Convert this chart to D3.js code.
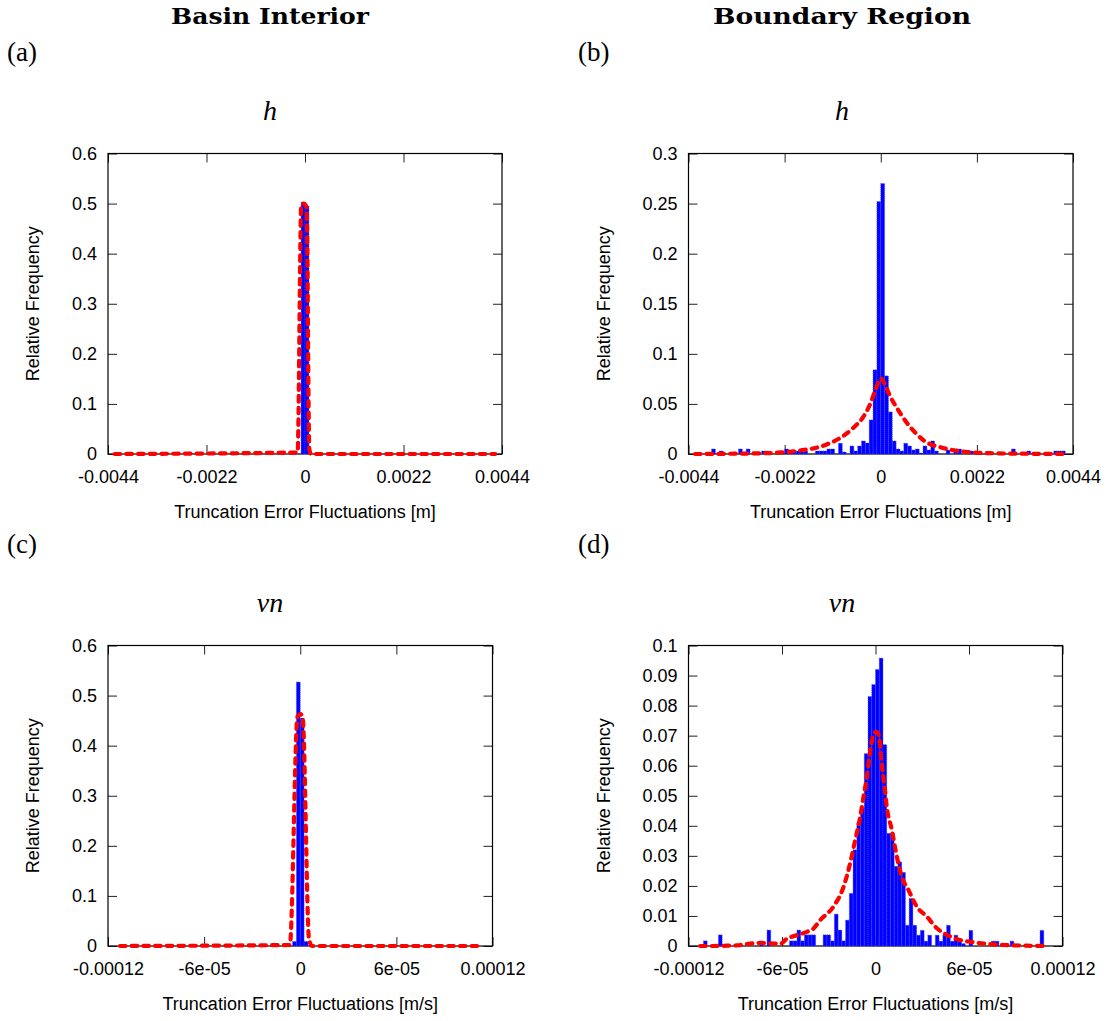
<!DOCTYPE html>
<html>
<head>
<meta charset="utf-8">
<script src="https://cdn.jsdelivr.net/npm/d3@7"></script>
<style>
  body { margin: 0; background: #ffffff; }
  svg { display: block; }
</style>
</head>
<body>
<svg id="fig" width="1113" height="1021"></svg>
<script>
// ---------------- text ----------------
const columnTitles = ["Basin Interior", "Boundary Region"];
const panelTags = ["(a)", "(b)", "(c)", "(d)"];
const variableNames = ["h", "h", "vn", "vn"];
const yAxisTitle = "Relative Frequency";
const xAxisTitles = [
  "Truncation Error Fluctuations [m]",
  "Truncation Error Fluctuations [m]",
  "Truncation Error Fluctuations [m/s]",
  "Truncation Error Fluctuations [m/s]"
];

// ---------------- tick values and labels ----------------
const hTickValues = [-0.0044, -0.0022, 0, 0.0022, 0.0044];
const hTickLabels = ["-0.0044", "-0.0022", "0", "0.0022", "0.0044"];
const vnTickValues = [-0.00012, -0.00006, 0, 0.00006, 0.00012];
const vnTickLabels = ["-0.00012", "-6e-05", "0", "6e-05", "0.00012"];

const freqTicksInterior = [0, 0.1, 0.2, 0.3, 0.4, 0.5, 0.6];
const freqLabelsInterior = ["0", "0.1", "0.2", "0.3", "0.4", "0.5", "0.6"];
const freqTicksHBoundary = [0, 0.05, 0.1, 0.15, 0.2, 0.25, 0.3];
const freqLabelsHBoundary = ["0", "0.05", "0.1", "0.15", "0.2", "0.25", "0.3"];
const freqTicksVnBoundary = [0, 0.01, 0.02, 0.03, 0.04, 0.05, 0.06, 0.07, 0.08, 0.09, 0.1];
const freqLabelsVnBoundary = ["0", "0.01", "0.02", "0.03", "0.04", "0.05", "0.06", "0.07", "0.08", "0.09", "0.1"];

// ---------------- histogram bins ----------------
// bin k covers [k*width, (k+1)*width]; arrays start at the given first bin index
const hBinWidth = 0.000088;
const vnBinWidth = 0.0000024;

const hInteriorFirstBin = -1;
const hInteriorFreq = [0.502, 0.495];

const hBoundaryFirstBin = -44;
const hBoundaryFreq = [
  0.005, 0, 0.003, 0, 0, 0, 0, 0.005, 0, 0.005,          // -44 .. -35
  0, 0, 0, 0.003, 0.003, 0, 0, 0, 0, 0.005,              // -34 .. -25
  0.003, 0.003, 0.003, 0.003, 0.003, 0, 0, 0.003, 0.003, 0.003, // -24 .. -15
  0.005, 0.005, 0, 0.0107, 0.002, 0, 0.008, 0.003, 0.008, 0.013, // -14 .. -5
  0.011, 0.034, 0.084, 0.252, 0.27, 0.078, 0.042, 0.013, 0.005, 0.003, // -4 .. 5
  0.0107, 0.008, 0.004, 0.005, 0.001, 0.008, 0.004, 0.013, 0.003, 0, // 6 .. 15
  0, 0.004, 0, 0.005, 0.005, 0, 0, 0.003, 0, 0,          // 16 .. 25
  0, 0, 0, 0, 0, 0, 0, 0, 0.005, 0,                      // 26 .. 35
  0, 0, 0.003, 0, 0, 0, 0, 0, 0, 0.003,                  // 36 .. 45
  0.003, 0.003                                           // 46 .. 47
];

const vnInteriorFirstBin = -2;
const vnInteriorFreq = [0.009, 0.527, 0.455, 0.009];

const vnBoundaryFirstBin = -46;
const vnBoundaryFreq = [
  0.0017, 0, 0, 0, 0.0037, 0, 0, 0, 0, 0,                // -46 .. -37
  0, 0, 0, 0, 0, 0.0017, 0, 0.0053, 0, 0,                // -36 .. -27
  0, 0, 0, 0.0017, 0.0017, 0.0053, 0.0017, 0.0037, 0.0037, 0.0037, // -26 .. -17
  0, 0, 0.0037, 0.0037, 0.0017, 0.0106, 0.0053, 0.0017, 0.0086, 0.0175, // -16 .. -7
  0.032, 0.041, 0.046, 0.064, 0.083, 0.087, 0.092, 0.0958, 0.067, 0.0375, // -6 .. 3
  0.0375, 0.0265, 0.028, 0.0245, 0.0069, 0.0158, 0.0069, 0.0036, 0.0052, 0.0016, // 4 .. 13
  0.0036, 0, 0.0036, 0.0016, 0.0036, 0.0069, 0.0016, 0.0036, 0.0016, 0.0008, // 14 .. 23
  0, 0.0052, 0, 0, 0, 0, 0, 0.0016, 0.0016, 0,           // 24 .. 33
  0, 0, 0.0016, 0, 0, 0, 0, 0, 0, 0,                      // 34 .. 43
  0.0052                                                  // 44
];

// ---------------- fitted density curves ----------------
const hInteriorFitX = [-0.00425, -0.000165, -0.000083, -0.00003, 0.000036, 0.000096, 0.000134, 0.00425];
const hInteriorFitY = [0, 0.003, 0.497, 0.5, 0.493, 0.01, 0, 0];

const hBoundaryFitX = [-0.00425, -0.0035, -0.003, -0.0025, -0.00215, -0.0018, -0.0015, -0.00124, -0.00093,
  -0.00063, -0.0004, -0.00024, -0.00012, 0, 0.0001, 0.00021, 0.00037, 0.0006, 0.00082, 0.001,
  0.00136, 0.00166, 0.00197, 0.0025, 0.003, 0.0035, 0.00425];
const hBoundaryFitY = [0, 0.0002, 0.0005, 0.001, 0.002, 0.0038, 0.006, 0.0095, 0.016,
  0.026, 0.037, 0.05, 0.064, 0.0755, 0.069, 0.058, 0.046, 0.031, 0.02, 0.013,
  0.0068, 0.0038, 0.002, 0.0008, 0.0004, 0.0002, 0];

const vnInteriorFitX = [-0.0001125, -0.0000065, -0.0000017, 0.0000002, 0.0000015, 0.0000055, 0.0000075, 0.0001128];
const vnInteriorFitY = [0, 0.002, 0.458, 0.463, 0.456, 0.012, 0, 0];

const vnBoundaryFitX = [-0.0001125, -0.000104, -0.0000954, -0.000089, -0.0000804, -0.000074, -0.0000676,
  -0.0000612, -0.0000569, -0.0000505, -0.0000441, -0.0000398, -0.0000355, -0.000027, -0.0000205,
  -0.0000163, -0.000013, -0.0000098, -0.0000077, -0.0000056, -0.0000039, -0.0000013, 0.0000004,
  0.0000021, 0.0000039, 0.0000058, 0.0000073, 0.0000105, 0.0000137, 0.0000169, 0.0000212, 0.0000265,
  0.0000329, 0.0000394, 0.0000458, 0.0000543, 0.0000607, 0.0000714, 0.0000843, 0.0000971, 0.0001089];
const vnBoundaryFitY = [0, 0, 0.0001, 0.0002, 0.0008, 0.001, 0.0009,
  0.0007, 0.0024, 0.0036, 0.0047, 0.0058, 0.0086, 0.0131, 0.0197,
  0.0275, 0.0353, 0.043, 0.0497, 0.056, 0.063, 0.0704, 0.0713,
  0.0702, 0.061, 0.053, 0.046, 0.0386, 0.0297, 0.023, 0.0186, 0.0131,
  0.0098, 0.0059, 0.0037, 0.002, 0.0014, 0.0007, 0.0003, 0.0001, 0];

// ---------------- layout of the four panels ----------------
const LEFT_COL = 270, RIGHT_COL = 842;
const panels = [
  { box: { left: 108, right: 502, top: 153.5, bottom: 454 }, xMax: 0.0044, yMax: 0.6,
    xTicks: hTickValues, xTickLabels: hTickLabels, yTicks: freqTicksInterior, yTickLabels: freqLabelsInterior,
    binWidth: hBinWidth, firstBin: hInteriorFirstBin, freq: hInteriorFreq, fitX: hInteriorFitX, fitY: hInteriorFitY,
    tag: [7, 61], name: [LEFT_COL, 120], yTitleX: 33 },
  { box: { left: 688.5, right: 1073, top: 153.5, bottom: 454 }, xMax: 0.0044, yMax: 0.3,
    xTicks: hTickValues, xTickLabels: hTickLabels, yTicks: freqTicksHBoundary, yTickLabels: freqLabelsHBoundary,
    binWidth: hBinWidth, firstBin: hBoundaryFirstBin, freq: hBoundaryFreq, fitX: hBoundaryFitX, fitY: hBoundaryFitY,
    tag: [578, 61], name: [RIGHT_COL, 120], yTitleX: 604 },
  { box: { left: 108, right: 492.5, top: 645.5, bottom: 946 }, xMax: 0.00012, yMax: 0.6,
    xTicks: vnTickValues, xTickLabels: vnTickLabels, yTicks: freqTicksInterior, yTickLabels: freqLabelsInterior,
    binWidth: vnBinWidth, firstBin: vnInteriorFirstBin, freq: vnInteriorFreq, fitX: vnInteriorFitX, fitY: vnInteriorFitY,
    tag: [7, 553], name: [LEFT_COL, 612], yTitleX: 33 },
  { box: { left: 688.5, right: 1062.5, top: 645.5, bottom: 946 }, xMax: 0.00012, yMax: 0.1,
    xTicks: vnTickValues, xTickLabels: vnTickLabels, yTicks: freqTicksVnBoundary, yTickLabels: freqLabelsVnBoundary,
    binWidth: vnBinWidth, firstBin: vnBoundaryFirstBin, freq: vnBoundaryFreq, fitX: vnBoundaryFitX, fitY: vnBoundaryFitY,
    tag: [578, 553], name: [RIGHT_COL, 612], yTitleX: 604 }
];

const SANS = "'Liberation Sans', Arial, Helvetica, sans-serif";
const SERIF = "'Liberation Serif', 'Times New Roman', serif";
const HEAD_SERIF = "'DejaVu Serif', 'Liberation Serif', serif";

const svg = d3.select("#fig");
svg.append("rect").attr("width", 1113).attr("height", 1021).attr("fill", "#ffffff");

// column headings
[[LEFT_COL, columnTitles[0], 198], [RIGHT_COL, columnTitles[1], 258]].forEach(([cx, t, len]) => {
  svg.append("text")
    .attr("x", cx).attr("y", 24)
    .attr("text-anchor", "middle")
    .attr("font-family", HEAD_SERIF).attr("font-weight", "bold").attr("font-size", 23)
    .attr("textLength", len).attr("lengthAdjust", "spacingAndGlyphs")
    .text(t);
});

panels.forEach((p, i) => {
  const b = p.box;
  const x = d3.scaleLinear().domain([-p.xMax, p.xMax]).range([b.left, b.right]);
  const y = d3.scaleLinear().domain([0, p.yMax]).range([b.bottom, b.top]);
  const g = svg.append("g");

  // panel tag and variable name
  g.append("text").attr("x", p.tag[0]).attr("y", p.tag[1])
    .attr("font-family", SERIF).attr("font-size", 27).text(panelTags[i]);
  g.append("text").attr("x", p.name[0]).attr("y", p.name[1])
    .attr("text-anchor", "middle")
    .attr("font-family", SERIF).attr("font-style", "italic").attr("font-size", 28)
    .text(variableNames[i]);

  // axes with inward, mirrored ticks
  const styleAxis = sel => {
    sel.select(".domain").remove();
    sel.attr("font-family", SANS).attr("font-size", 18);
    sel.selectAll(".tick line").attr("stroke", "#222").attr("stroke-width", 1);
  };
  g.append("g").attr("transform", `translate(0,${b.bottom})`)
    .call(d3.axisBottom(x).tickValues(p.xTicks).tickFormat((d, k) => p.xTickLabels[k])
      .tickSize(-9).tickSizeOuter(0).tickPadding(16))
    .call(styleAxis);
  g.append("g").attr("transform", `translate(0,${b.top})`)
    .call(d3.axisTop(x).tickValues(p.xTicks).tickFormat("").tickSize(-9).tickSizeOuter(0))
    .call(styleAxis);
  g.append("g").attr("transform", `translate(${b.left},0)`)
    .call(d3.axisLeft(y).tickValues(p.yTicks).tickFormat((d, k) => p.yTickLabels[k])
      .tickSize(-9).tickSizeOuter(0).tickPadding(11))
    .call(styleAxis);
  g.append("g").attr("transform", `translate(${b.right},0)`)
    .call(d3.axisRight(y).tickValues(p.yTicks).tickFormat("").tickSize(-9).tickSizeOuter(0))
    .call(styleAxis);

  // frame
  g.append("rect")
    .attr("x", b.left).attr("y", b.top)
    .attr("width", b.right - b.left).attr("height", b.bottom - b.top)
    .attr("fill", "none").attr("stroke", "#000").attr("stroke-width", 1.2);

  // axis titles
  g.append("text")
    .attr("x", (b.left + b.right) / 2).attr("y", b.bottom + 64)
    .attr("text-anchor", "middle")
    .attr("font-family", SANS).attr("font-size", 18)
    .text(xAxisTitles[i]);
  g.append("text")
    .attr("transform", `translate(${p.yTitleX},${(b.top + b.bottom) / 2}) rotate(-90)`)
    .attr("text-anchor", "middle").attr("dominant-baseline", "central")
    .attr("font-family", SANS).attr("font-size", 18)
    .text(yAxisTitle);

  // histogram boxes
  const bins = p.freq.map((v, k) => ({ k: p.firstBin + k, v }))
    .filter(d => d.v > 0);
  g.append("g").selectAll("rect").data(bins).join("rect")
    .attr("x", d => x(d.k * p.binWidth))
    .attr("width", d => x((d.k + 1) * p.binWidth) - x(d.k * p.binWidth))
    .attr("y", d => y(d.v))
    .attr("height", d => y(0) - y(d.v))
    .attr("fill", "#0000ff")
    .attr("stroke", "#4848ff").attr("stroke-width", 0.7).attr("stroke-dasharray", "1,1");

  // fitted density
  const pts = p.fitX.map((xv, k) => [xv, p.fitY[k]]);
  const line = d3.line().x(d => x(d[0])).y(d => y(d[1])).curve(d3.curveMonotoneX);
  g.append("path")
    .attr("d", line(pts))
    .attr("fill", "none")
    .attr("stroke", "#ff0000").attr("stroke-width", 4.2)
    .attr("stroke-linecap", "round").attr("stroke-linejoin", "round")
    .attr("stroke-dasharray", "5.5,6.2");
});
</script>
</body>
</html>
